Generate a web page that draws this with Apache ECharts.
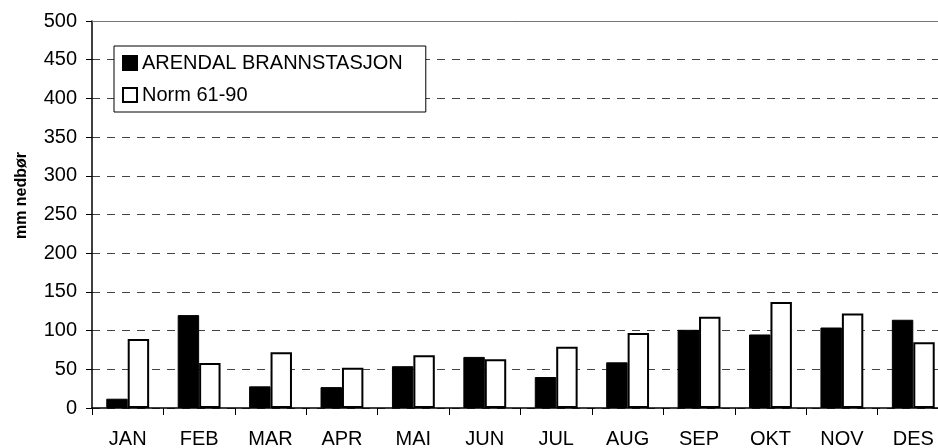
<!DOCTYPE html>
<html>
<head>
<meta charset="utf-8">
<script src="https://cdn.jsdelivr.net/npm/echarts@6/dist/echarts.min.js"></script>
<style>
  html, body { margin: 0; padding: 0; background: #fff; }
  #chart { width: 938px; height: 448px; }
</style>
</head>
<body>
<div id="chart"></div>
<script>
// months (x axis)
const months = ["JAN", "FEB", "MAR", "APR", "MAI", "JUN", "JUL", "AUG", "SEP", "OKT", "NOV", "DES"];
// monthly precipitation, mm
const arendal = [12, 120, 28, 27, 54, 66, 40, 59, 101, 95, 104, 114];
const norm = [89, 58, 72, 52, 68, 63, 79, 97, 118, 137, 122, 85];
const seriesNames = ["ARENDAL BRANNSTASJON", "Norm 61-90"];

const font = "'Liberation Sans', Arial, sans-serif";
const chart = echarts.init(document.getElementById("chart"));

const option = {
  backgroundColor: "#fff",
  animation: false,
  grid: {
    left: 92,
    right: -11, // last category runs past the picture edge
    top: 21,
    bottom: 40,
    outerBoundsMode: "none",
  },
  legend: {
    orient: "vertical",
    left: 114,
    top: 46,
    padding: [7, 23, 7, 8],
    itemWidth: 14,
    itemHeight: 14,
    itemGap: 12,
    backgroundColor: "#fff",
    borderColor: "#000",
    borderWidth: 1,
    borderRadius: 0,
    icon: "rect",
    textStyle: { fontFamily: font, fontSize: 20, lineHeight: 20, color: "#000" },
    data: seriesNames,
  },
  xAxis: [
    {
      type: "category",
      data: months,
      axisLine: { lineStyle: { color: "#000", width: 1.5 } },
      axisTick: { show: true, length: 7, lineStyle: { color: "#000" } },
      axisLabel: { fontFamily: font, fontSize: 20, color: "#000", margin: 21 },
    },
    {
      // solid frame line along the top
      type: "category",
      position: "top",
      data: months,
      axisLine: { lineStyle: { color: "#777", width: 1 } },
      axisTick: { show: false },
      axisLabel: { show: false },
    },
  ],
  yAxis: {
    type: "value",
    min: 0,
    max: 500,
    interval: 50,
    name: "mm nedbør",
    nameLocation: "middle",
    nameGap: 62,
    nameTextStyle: {
      fontFamily: font,
      fontSize: 16,
      fontWeight: "bold",
      color: "#000",
      padding: [0, 0, 0, 38],
    },
    axisLine: { show: true, lineStyle: { color: "#000", width: 1.5 } },
    axisTick: { show: true, length: 6, lineStyle: { color: "#000" } },
    axisLabel: { fontFamily: font, fontSize: 20, color: "#000", margin: 15 },
    splitLine: { lineStyle: { color: "#444", type: [8, 7], width: 1 } },
  },
  series: [
    {
      name: seriesNames[0],
      type: "bar",
      data: arendal,
      barWidth: "30%",
      barGap: "0%",
      itemStyle: { color: "#000", borderColor: "#000", borderWidth: 1 },
    },
    {
      name: seriesNames[1],
      type: "bar",
      data: norm,
      barWidth: "30%",
      itemStyle: { color: "#fff", borderColor: "#000", borderWidth: 2 },
    },
  ],
};

chart.setOption(option);
</script>
</body>
</html>
